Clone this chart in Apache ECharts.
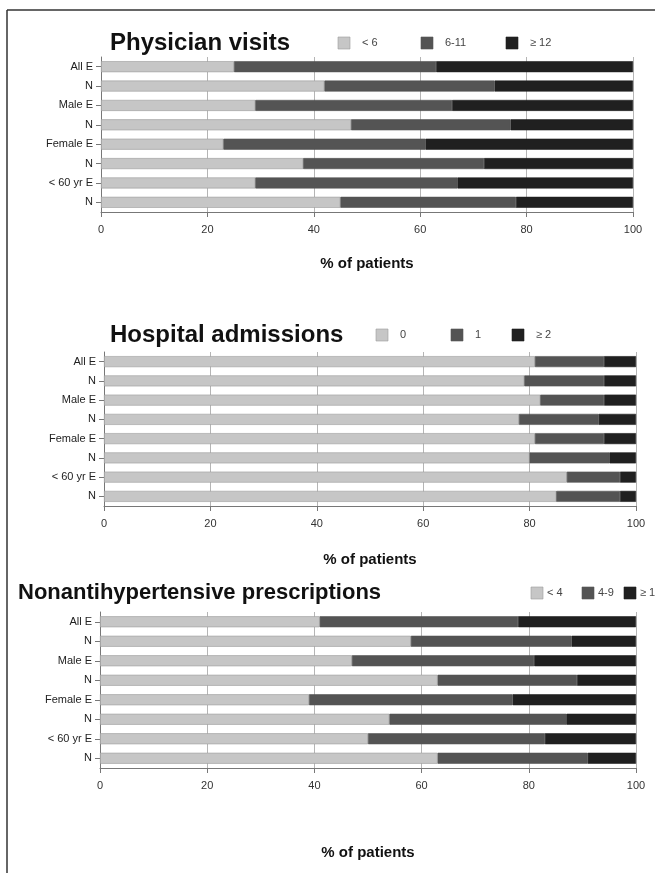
<!DOCTYPE html>
<html>
<head>
<meta charset="utf-8">
<title>Utilisation by patient group</title>
<script src="https://cdn.jsdelivr.net/npm/echarts@6/dist/echarts.min.js"></script>
<style>
  html, body { margin: 0; padding: 0; background: #ffffff; }
  #chart { width: 655px; height: 873px; }
</style>
</head>
<body>
<div id="chart"></div>
<script>
// Patient groups (E = exposed, N = non-exposed comparison)
const categories = ['All E', 'N', 'Male E', 'N', 'Female E', 'N', '< 60 yr E', 'N'];
const xTicks = [0, 20, 40, 60, 80, 100];

// Physician visits, % of patients
const visitsNames = ['< 6', '6-11', '≥ 12'];
const visitsLow  = [25, 42, 29, 47, 23, 38, 29, 45];
const visitsMid  = [38, 32, 37, 30, 38, 34, 38, 33];
const visitsHigh = [37, 26, 34, 23, 39, 28, 33, 22];

// Hospital admissions, % of patients
const admitNames = ['0', '1', '≥ 2'];
const admitLow  = [81, 79, 82, 78, 81, 80, 87, 85];
const admitMid  = [13, 15, 12, 15, 13, 15, 10, 12];
const admitHigh = [6, 6, 6, 7, 6, 5, 3, 3];

// Nonantihypertensive prescriptions, % of patients
const rxNames = ['< 4', '4-9', '≥ 10'];
const rxLow  = [41, 58, 47, 63, 39, 54, 50, 63];
const rxMid  = [37, 30, 34, 26, 38, 33, 33, 28];
const rxHigh = [22, 12, 19, 11, 23, 13, 17, 9];

const shades = ['#c6c6c6', '#545454', '#202020'];
const FONT = '"Liberation Sans", Arial, Helvetica, sans-serif';

const panels = [
  { title: 'Physician visits', titleSize: 24, names: visitsNames, data: [visitsLow, visitsMid, visitsHigh],
    grid: { left: 101, right: 22, top: 57, height: 155 }, nameGap: 44,
    titlePos: [110, 43], legendX: [338, 421, 506], legendText: 24, legendY: 43 },
  { title: 'Hospital admissions', titleSize: 24, names: admitNames, data: [admitLow, admitMid, admitHigh],
    grid: { left: 104, right: 19, top: 352, height: 154 }, nameGap: 46,
    titlePos: [110, 335], legendX: [376, 451, 512], legendText: 24, legendY: 335 },
  { title: 'Nonantihypertensive prescriptions', titleSize: 22, names: rxNames, data: [rxLow, rxMid, rxHigh],
    grid: { left: 100, right: 19, top: 612, height: 156 }, nameGap: 77,
    titlePos: [18, 593], legendX: [531, 582, 624], legendText: 16, legendY: 593 }
];

const grids = [], xAxes = [], yAxes = [], series = [], graphics = [];

// Outer frame: top and left rules
graphics.push({ type: 'line', shape: { x1: 7, y1: 10, x2: 655, y2: 10 },
  style: { stroke: '#333', lineWidth: 1.5 }, silent: true });
graphics.push({ type: 'line', shape: { x1: 7, y1: 10, x2: 7, y2: 873 },
  style: { stroke: '#333', lineWidth: 1.5 }, silent: true });

panels.forEach((p, pi) => {
  grids.push(p.grid);
  xAxes.push({
    gridIndex: pi, type: 'value', min: xTicks[0], max: xTicks[xTicks.length - 1], interval: 20,
    name: '% of patients', nameLocation: 'middle', nameGap: p.nameGap,
    nameTextStyle: { fontFamily: FONT, fontWeight: 'bold', fontSize: 15, color: '#111' },
    axisLine: { show: true, lineStyle: { color: '#777', width: 1 } },
    axisTick: { show: true, length: 5, lineStyle: { color: '#777' } },
    axisLabel: { fontFamily: FONT, fontSize: 11, color: '#333', margin: 12 },
    splitLine: { show: true, lineStyle: { color: '#b5b5b5', width: 1 } }
  });
  yAxes.push({
    gridIndex: pi, type: 'category', data: categories, inverse: true,
    axisLine: { show: true, lineStyle: { color: '#777', width: 1 } },
    axisTick: { show: true, alignWithLabel: true, length: 5, lineStyle: { color: '#777' } },
    axisLabel: { fontFamily: FONT, fontSize: 11, color: '#222', margin: 8 },
    splitLine: { show: false }
  });
  p.names.forEach((nm, si) => {
    series.push({
      type: 'bar', name: nm, stack: 'panel' + pi, xAxisIndex: pi, yAxisIndex: pi,
      data: p.data[si], barWidth: 11,
      itemStyle: { color: shades[si], borderColor: si === 0 ? '#9c9c9c' : shades[si], borderWidth: 0.6 },
      emphasis: { disabled: true }
    });
    // Legend swatch and caption
    graphics.push({ type: 'rect', shape: { x: p.legendX[si], y: p.legendY - 6, width: 12, height: 12 },
      style: { fill: shades[si], stroke: si === 0 ? '#9c9c9c' : shades[si], lineWidth: 0.6 }, silent: true });
    graphics.push({ type: 'text', x: p.legendX[si] + p.legendText, y: p.legendY,
      style: { text: nm, fontFamily: FONT, fontSize: 11, fill: '#444', verticalAlign: 'middle' }, silent: true });
  });
  graphics.push({ type: 'text', x: p.titlePos[0], y: p.titlePos[1],
    style: { text: p.title, fontFamily: FONT, fontWeight: 'bold', fontSize: p.titleSize, fill: '#111',
      verticalAlign: 'middle' }, silent: true });
});

const chart = echarts.init(document.getElementById('chart'), null, { renderer: 'canvas' });
chart.setOption({
  animation: false,
  backgroundColor: '#ffffff',
  grid: grids,
  xAxis: xAxes,
  yAxis: yAxes,
  series: series,
  graphic: graphics
});
</script>
</body>
</html>
